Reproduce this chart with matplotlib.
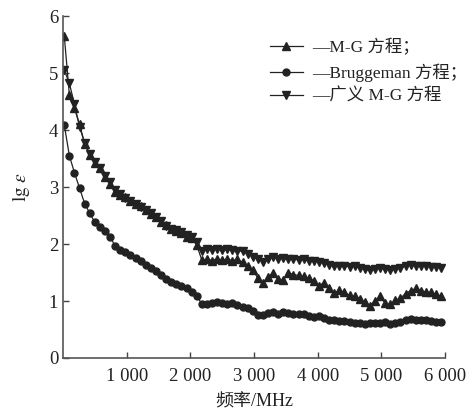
import matplotlib
matplotlib.use('Agg')
import matplotlib.pyplot as plt

plt.rcParams['font.family'] = ['Liberation Serif', 'Noto Sans CJK SC', 'DejaVu Sans']
plt.rcParams['mathtext.fontset'] = 'stix'

# frequency, MHz
freq = [20, 100, 180, 260, 340, 420, 500, 580, 660, 740,
        820, 900, 980, 1060, 1140, 1220, 1300, 1380, 1460, 1540,
        1620, 1700, 1780, 1860, 1940, 2020, 2100, 2180, 2260, 2340,
        2420, 2500, 2580, 2660, 2740, 2820, 2900, 2980, 3060, 3140,
        3220, 3300, 3380, 3460, 3540, 3620, 3700, 3780, 3860, 3940,
        4020, 4100, 4180, 4260, 4340, 4420, 4500, 4580, 4660, 4740,
        4820, 4900, 4980, 5060, 5140, 5220, 5300, 5380, 5460, 5540,
        5620, 5700, 5780, 5860, 5940]

# M-G equation
mg = [5.65, 4.62, 4.38, 4.10, 3.76, 3.56, 3.42, 3.34, 3.18, 3.06,
      2.92, 2.86, 2.82, 2.76, 2.70, 2.66, 2.59, 2.53, 2.48, 2.38,
      2.33, 2.26, 2.22, 2.20, 2.13, 2.10, 1.98, 1.72, 1.73, 1.71,
      1.74, 1.72, 1.73, 1.71, 1.73, 1.68, 1.62, 1.55, 1.40, 1.32,
      1.42, 1.50, 1.38, 1.36, 1.50, 1.46, 1.45, 1.43, 1.40, 1.35,
      1.27, 1.32, 1.22, 1.14, 1.19, 1.15, 1.10, 1.08, 1.04, 0.98,
      0.92, 1.00, 1.08, 0.96, 0.94, 1.01, 1.05, 1.13, 1.18, 1.22,
      1.18, 1.16, 1.15, 1.12, 1.08]

# Bruggeman equation
brug = [4.09, 3.55, 3.25, 2.98, 2.71, 2.54, 2.38, 2.29, 2.22, 2.13,
        1.96, 1.90, 1.86, 1.81, 1.76, 1.70, 1.64, 1.58, 1.52, 1.45,
        1.38, 1.34, 1.29, 1.26, 1.22, 1.15, 1.09, 0.95, 0.94, 0.97,
        0.99, 0.97, 0.95, 0.96, 0.93, 0.90, 0.88, 0.83, 0.75, 0.76,
        0.79, 0.81, 0.78, 0.80, 0.79, 0.78, 0.77, 0.77, 0.74, 0.72,
        0.73, 0.70, 0.66, 0.66, 0.65, 0.65, 0.64, 0.62, 0.61, 0.60,
        0.61, 0.62, 0.62, 0.63, 0.60, 0.61, 0.63, 0.66, 0.68, 0.67,
        0.67, 0.66, 0.65, 0.64, 0.63]

# generalized M-G equation
gen = [5.05, 4.82, 4.45, 4.05, 3.78, 3.58, 3.44, 3.33, 3.20, 3.08,
       2.94, 2.87, 2.81, 2.75, 2.71, 2.65, 2.60, 2.54, 2.47, 2.40,
       2.32, 2.27, 2.25, 2.21, 2.16, 2.12, 2.03, 1.88, 1.91, 1.89,
       1.92, 1.89, 1.91, 1.89, 1.87, 1.88, 1.83, 1.78, 1.74, 1.69,
       1.74, 1.77, 1.74, 1.75, 1.73, 1.74, 1.72, 1.73, 1.70, 1.71,
       1.69, 1.67, 1.63, 1.62, 1.61, 1.62, 1.60, 1.61, 1.58, 1.56,
       1.54, 1.56, 1.58, 1.57, 1.54, 1.57, 1.58, 1.61, 1.63, 1.62,
       1.61, 1.62, 1.60, 1.60, 1.58]

labels = ['—M-G 方程；', '—Bruggeman 方程；', '—广义 M-G 方程']
xticks = [1000, 2000, 3000, 4000, 5000, 6000]
xticklabels = ['1 000', '2 000', '3 000', '4 000', '5 000', '6 000']

col = '#222222'
fig = plt.figure(figsize=(4.76, 4.16), dpi=100)
ax = fig.add_axes([63/476, 1-358/416, (445-63)/476, (358-16)/416])

ax.plot(freq, mg, '-^', color=col, lw=0.9, ms=5.5, label=labels[0])
ax.plot(freq, brug, '-o', color=col, lw=0.9, ms=5, label=labels[1])
ax.plot(freq, gen, '-v', color=col, lw=0.9, ms=5.5, label=labels[2])

ax.set_xlim(0, 6000)
ax.set_ylim(0, 6)
ax.set_xticks(xticks)
ax.set_xticklabels(xticklabels)
ax.set_yticks(range(7))
ax.tick_params(direction='in', length=4, width=1, colors='#444444',
               labelsize=13.5, labelcolor='#222222')
ax.tick_params(axis='x', pad=7)
for s in ['top', 'right']:
    ax.spines[s].set_visible(False)
for s in ['left', 'bottom']:
    ax.spines[s].set_color('#555555')
    ax.spines[s].set_linewidth(1.2)

ax.set_xlabel('频率/MHz', fontsize=13, color='#222222', labelpad=6)
ax.set_ylabel(r'$\mathrm{lg}\ \varepsilon$', fontsize=14, color='#222222', labelpad=12)

leg = fig.legend(loc='upper left', bbox_to_anchor=(270/476, 1-39/416),
                 frameon=False, fontsize=12.5, handlelength=1.9,
                 handletextpad=0.5, labelspacing=0.4, borderpad=0,
                 borderaxespad=0)
for t in leg.get_texts():
    t.set_color('#222222')

fig.savefig('out.png', dpi=100)
